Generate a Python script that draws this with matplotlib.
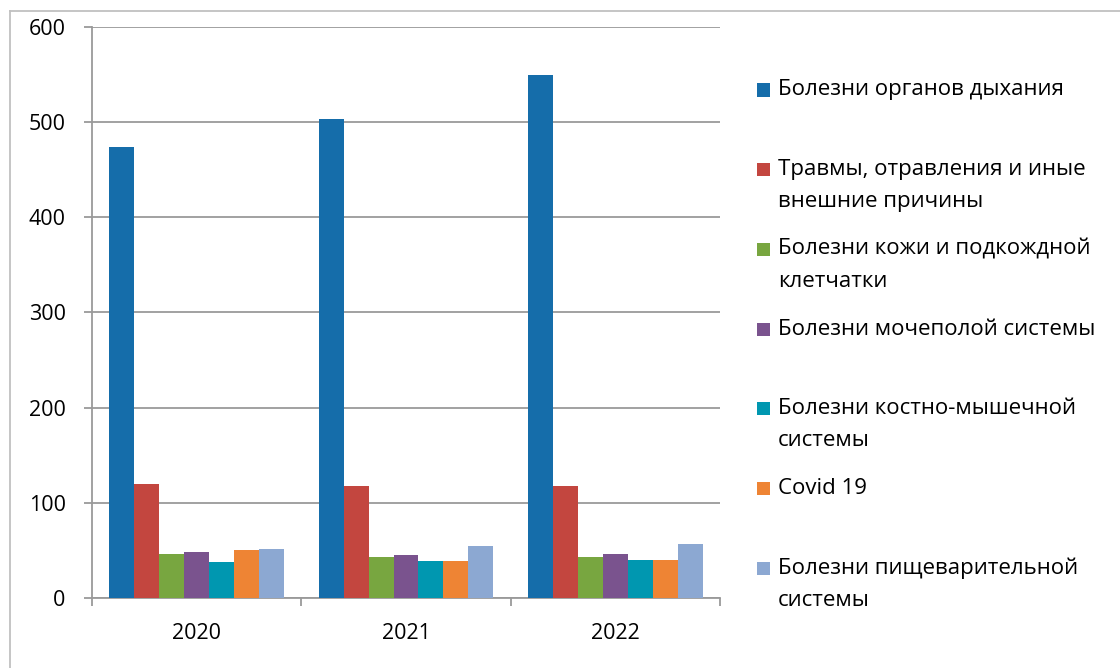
import numpy as np
import matplotlib
matplotlib.use('Agg')
import matplotlib.pyplot as plt
from matplotlib.patches import Rectangle
from matplotlib.lines import Line2D

years = ['2020', '2021', '2022']

series_names = [
    'Болезни органов дыхания',
    'Травмы, отравления и иные\nвнешние причины',
    'Болезни кожи и подкождной\nклетчатки',
    'Болезни мочеполой системы',
    'Болезни костно-мышечной\nсистемы',
    'Covid 19',
    'Болезни пищеварительной\nсистемы',
]

respiratory = [474, 503, 550]
injuries = [120, 118, 118]
skin = [46, 43, 43]
urogenital = [48, 45, 46]
musculoskeletal = [38, 39, 40]
covid = [50, 39, 40]
digestive = [52, 55, 57]

colors = ['#156DAA', '#C3463F', '#78A640', '#7A538E', '#0097B0', '#EE8434', '#8CA8D2']

yticks = [0, 100, 200, 300, 400, 500, 600]

W, H = 1120, 668
plt.rcParams['font.family'] = ['Open Sans', 'DejaVu Sans']

def main():
    fig = plt.figure(figsize=(W / 100, H / 100), dpi=100)
    ax = fig.add_axes([92 / W, 1 - 598 / H, 628 / W, 571 / H])

    all_series = [respiratory, injuries, skin, urogenital, musculoskeletal, covid, digestive]
    n = len(all_series)
    bw = 0.8333 / n
    x = np.arange(len(years))
    for i, vals in enumerate(all_series):
        ax.bar(x - 0.8333 / 2 + bw * (i + 0.5), vals, width=bw, color=colors[i],
               edgecolor='none', zorder=3)

    grid_c = '#9a9a9a'
    ax.set_xlim(-0.5, len(years) - 0.5)
    ax.set_ylim(0, 600)
    ax.set_yticks(yticks)
    ax.set_yticklabels([str(v) for v in yticks], fontsize=15.5)
    ax.yaxis.grid(True, color=grid_c, linewidth=1.3, zorder=0)
    ax.tick_params(axis='y', length=6, width=1.3, color=grid_c, pad=13)

    ax.set_xticks(x)
    ax.set_xticklabels(years, fontsize=15.5)
    ax.tick_params(axis='x', which='major', length=0, pad=18)
    ax.set_xticks(np.arange(len(years) + 1) - 0.5, minor=True)
    ax.tick_params(axis='x', which='minor', length=6, width=1.3, color=grid_c)

    for s in ['top', 'right']:
        ax.spines[s].set_visible(False)
    for s in ['left', 'bottom']:
        ax.spines[s].set_color(grid_c)
        ax.spines[s].set_linewidth(1.3)

    # outer chart border (left and top edges visible)
    border_c = '#c0c0c0'
    fig.add_artist(Line2D([10 / W, 10 / W], [0, 1 - 11 / H], transform=fig.transFigure,
                          color=border_c, linewidth=1.3))
    fig.add_artist(Line2D([10 / W, 1], [1 - 11 / H, 1 - 11 / H], transform=fig.transFigure,
                          color=border_c, linewidth=1.3))

    # legend, drawn by hand to keep Excel spacing
    for i, name in enumerate(series_names):
        yc = 90 + i * 79.7
        fig.add_artist(Rectangle((757 / W, 1 - (yc + 6.5) / H), 13 / W, 13 / H,
                                 transform=fig.transFigure, facecolor=colors[i],
                                 edgecolor='none'))
        for j, line in enumerate(name.split('\n')):
            fig.text(778 / W, 1 - (yc + j * 32) / H, line, fontsize=16,
                     va='center', ha='left', color='black')

    fig.savefig('out.png', dpi=100)

if __name__ == '__main__':
    main()
